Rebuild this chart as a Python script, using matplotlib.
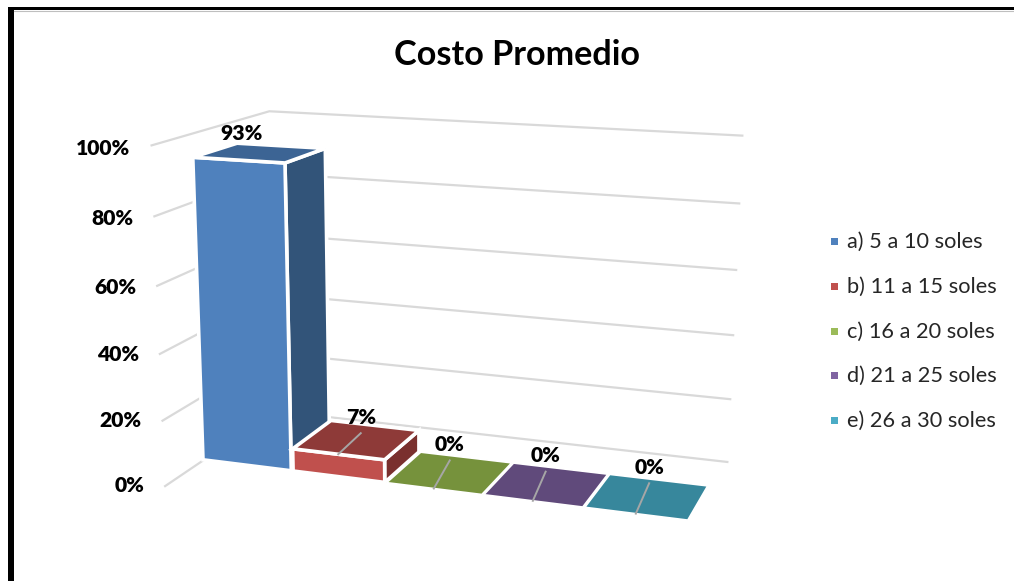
import numpy as np
import matplotlib
matplotlib.use("Agg")
import matplotlib.pyplot as plt
from matplotlib.patches import Polygon, Rectangle

plt.rcParams['font.family'] = ['Lato', 'DejaVu Sans']

# Chart content
title = "Costo Promedio"
categories = ["a) 5 a 10 soles", "b) 11 a 15 soles", "c) 16 a 20 soles",
              "d) 21 a 25 soles", "e) 26 a 30 soles"]
values = [93, 7, 0, 0, 0]
value_labels = ["93%", "7%", "0%", "0%", "0%"]
axis_ticks = [0, 20, 40, 60, 80, 100]

# Face colours per series
front_colors = ["#4F81BD", "#C0504D", "#9BBB59", "#8064A2", "#4BACC6"]
top_colors = ["#3C6494", "#8E3A38", "#76923C", "#604A7B", "#37879C"]
side_colors = ["#325479", "#7A302E", "#5F7530", "#4D3B63", "#2C6E80"]

# Camera: where the corners of the plot box (u, v, w) land on the canvas
box_corners = [(0, 0, 0), (1, 0, 0), (0, 1, 0), (1, 1, 0),
               (0, 0, 100), (1, 0, 100), (0, 1, 100), (1, 1, 100)]
box_canvas = [(165, 486), (676, 552), (276, 411), (727, 463),
              (151, 146), (690, 178), (270, 111), (742, 135)]


def solve_camera(world, canvas):
    rows, rhs = [], []
    for (u, v, w), (x, y) in zip(world, canvas):
        rows.append([u, v, w, 1, 0, 0, 0, 0, -x * u, -x * v, -x * w])
        rhs.append(x)
        rows.append([0, 0, 0, 0, u, v, w, 1, -y * u, -y * v, -y * w])
        rhs.append(y)
    p = np.linalg.lstsq(np.array(rows, float), np.array(rhs, float), rcond=None)[0]
    return np.append(p, 1.0).reshape(3, 4)


camera = solve_camera(box_corners, box_canvas)


def project(u, v, w):
    x, y, h = camera @ np.array([u, v, w, 1.0])
    return x / h, y / h


fig = plt.figure(figsize=(10.14, 5.81), dpi=100)
ax = fig.add_axes([0, 0, 1, 1])
ax.set_xlim(0, 1014)
ax.set_ylim(581, 0)
ax.axis("off")

# Outer frame: heavy on the left and top only
ax.add_patch(Rectangle((8, 7), 6, 574, fc="black", ec="none", zorder=1))
ax.add_patch(Rectangle((8, 7), 1006, 3, fc="black", ec="none", zorder=1))
ax.plot([14, 1014], [10.5, 10.5], color="#BFBFBF", lw=0.8, zorder=1)

ax.text(517, 55, title, fontsize=24.6, fontweight="bold", ha="center",
        va="center", color="black")

# Wall gridlines and value axis labels
for t in axis_ticks:
    pts = [project(0, 0, t), project(0, 1, t), project(1, 1, t)]
    ax.plot(*zip(*pts), color="#D9D9D9", lw=1.6, zorder=2,
            solid_joinstyle="miter")
    x, y = pts[0]
    ax.text(x - 21, y - 1 + t * 0.04, f"{t}%", fontsize=15.2, fontweight=800,
            ha="right", va="center", color="black", zorder=6)

# Bars, left to right so nearer faces overlap correctly
span_lo, span_hi = -0.004, 0.991
v0, v1 = 0.32, 0.70
leader_depth = [0.72, 0.72, 0.9, 0.9, 0.9]
leader_dx = [-28, -4, -13, -12, -7]
step = (span_hi - span_lo) / len(values)
for i, val in enumerate(values):
    u0 = span_lo + i * step + 0.002
    u1 = span_lo + (i + 1) * step - 0.002
    uc = (u0 + u1) / 2
    vm = v0 + leader_depth[i] * (v1 - v0)
    if val > 0:
        side = [project(u1, v0, 0), project(u1, v1, 0),
                project(u1, v1, val), project(u1, v0, val)]
        front = [project(u0, v0, 0), project(u1, v0, 0),
                 project(u1, v0, val), project(u0, v0, val)]
        ax.add_patch(Polygon(side, fc=side_colors[i], ec="white", lw=2.6, zorder=3 + i * 0.1))
        ax.add_patch(Polygon(front, fc=front_colors[i], ec="white", lw=2.6, zorder=3 + i * 0.1))
    top = [project(u0, v0, val), project(u1, v0, val),
           project(u1, v1, val), project(u0, v1, val)]
    ax.add_patch(Polygon(top, fc=top_colors[i], ec="white",
                         lw=2.6 if val > 0 else 1.2, zorder=3 + i * 0.1))
    lx, ly = project(uc, vm, val)
    lx += leader_dx[i]
    # The tallest bar hides its leader behind its own top face
    if i > 0:
        ax.plot(*zip(project(uc, v0, val), (lx, ly)),
                color="#A6A6A6", lw=1.4, zorder=4)
    ax.text(lx, ly - 16, value_labels[i], fontsize=15.2,
            fontweight=800, ha="center", va="center", color="black", zorder=6)

# Legend
legend_y = [241, 286, 331, 375, 420]
for name, color, y in zip(categories, front_colors, legend_y):
    ax.add_patch(Rectangle((831, y - 3.5), 7, 7, fc=color, ec="none", zorder=5))
    ax.text(847, y + 1, name, fontsize=15.7, ha="left", va="center", color="#262626")

fig.savefig("out.png", dpi=100, facecolor="white")
